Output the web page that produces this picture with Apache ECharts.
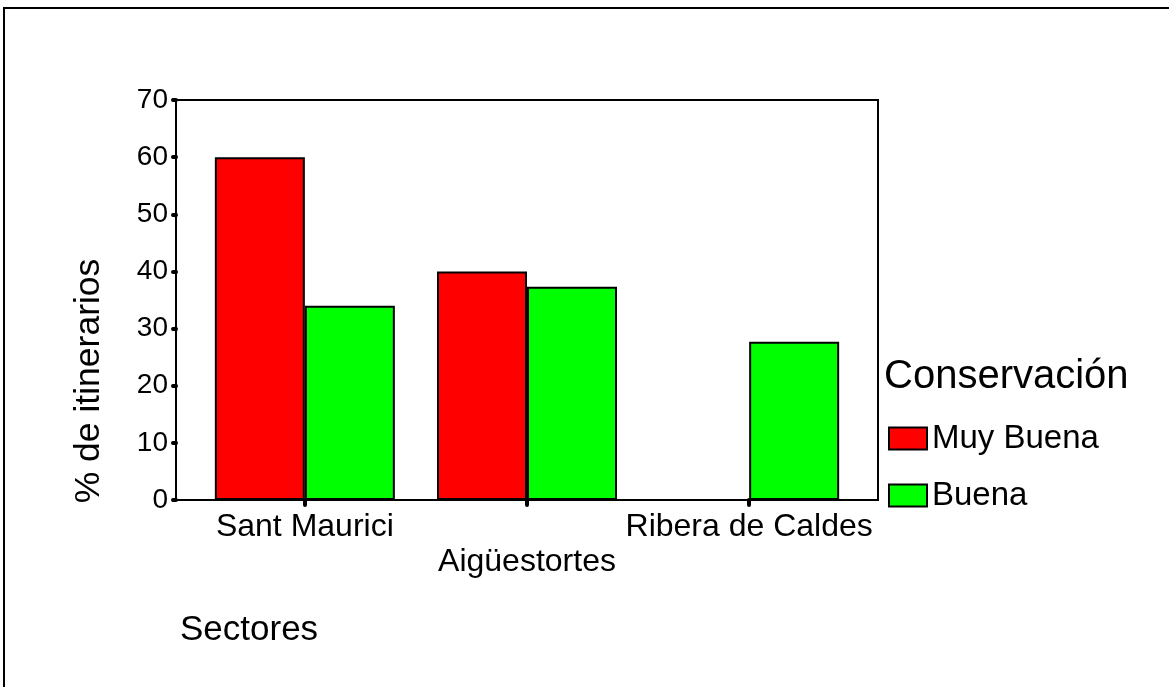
<!DOCTYPE html>
<html>
<head>
<meta charset="utf-8">
<script src="https://cdn.jsdelivr.net/npm/echarts@6/dist/echarts.min.js"></script>
<style>
  html, body { margin: 0; padding: 0; background: #fff; }
  #main { width: 1169px; height: 687px; }
</style>
</head>
<body>
<div id="main"></div>
<script>
// datos
const sectores = ["Sant Maurici", "Aigüestortes", "Ribera de Caldes"];
const muyBuena = [60, 40, 0];
const buena = [34, 37.3, 27.7];
const yTicks = [0, 10, 20, 30, 40, 50, 60, 70];

const font = "Liberation Sans, Arial, sans-serif";

const chart = echarts.init(document.getElementById("main"));

// posicion de cada sector en el eje x (0, 1, 2)
const toPoints = (arr) => arr.map((v, i) => [i, v]);

const option = {
  animation: false,
  backgroundColor: "#fff",
  textStyle: { fontFamily: font, color: "#000" },
  grid: {
    left: 176,
    top: 100,
    width: 702,
    height: 400,
    show: true,
    borderColor: "#000",
    borderWidth: 2,
    backgroundColor: "transparent",
  },
  xAxis: {
    type: "value",
    min: -0.58,
    max: 2.58,
    splitLine: { show: false },
    axisLine: { show: true, onZero: false, lineStyle: { color: "#000", width: 2 } },
    axisTick: {
      show: true,
      customValues: [0, 1, 2],
      length: 5,
      lineStyle: { color: "#000", width: 4, cap: "round" },
    },
    axisLabel: {
      customValues: [0, 1, 2],
      color: "#000",
      fontSize: 32,
      fontFamily: font,
      margin: 10,
      lineHeight: 35,
      formatter: (v) => {
        const i = Math.round(v);
        return i === 1 ? "\n" + sectores[i] : sectores[i];
      },
    },
  },
  yAxis: {
    type: "value",
    min: 0,
    max: yTicks[yTicks.length - 1],
    interval: 10,
    splitLine: { show: false },
    axisLine: { show: true, onZero: false, lineStyle: { color: "#000", width: 2 } },
    axisTick: { show: true, inside: false, length: 3, lineStyle: { color: "#000", width: 4, cap: "round" } },
    axisLabel: { color: "#000", fontSize: 28, fontFamily: font, margin: 8 },
  },
  legend: {
    orient: "vertical",
    left: 888,
    top: 422,
    padding: 0,
    itemWidth: 38,
    itemHeight: 22,
    itemGap: 24,
    icon: "rect",
    textStyle: { fontSize: 33, fontFamily: font, color: "#000" },
    data: ["Muy Buena", "Buena"],
  },
  graphic: [
    {
      type: "rect",
      silent: true,
      shape: { x: 4, y: 8, width: 1200, height: 720 },
      style: { fill: "none", stroke: "#000", lineWidth: 2 },
    },
    {
      type: "text",
      x: 89,
      y: 381,
      rotation: Math.PI / 2,
      style: {
        text: "% de itinerarios",
        font: "35.5px " + font,
        fill: "#000",
        align: "center",
        verticalAlign: "middle",
      },
    },
    {
      type: "text",
      x: 180,
      y: 630,
      style: {
        text: "Sectores",
        font: "35px " + font,
        fill: "#000",
        align: "left",
        verticalAlign: "middle",
      },
    },
    {
      type: "text",
      x: 884,
      y: 377,
      style: {
        text: "Conservación",
        font: "40px " + font,
        fill: "#000",
        align: "left",
        verticalAlign: "middle",
      },
    },
  ],
  series: [
    {
      name: "Muy Buena",
      type: "bar",
      barWidth: 90,
      barGap: "0%",
      itemStyle: { color: "#ff0000", borderColor: "#000", borderWidth: 2 },
      data: toPoints(muyBuena),
    },
    {
      name: "Buena",
      type: "bar",
      barWidth: 90,
      barGap: "0%",
      itemStyle: { color: "#00ff00", borderColor: "#000", borderWidth: 2 },
      data: toPoints(buena),
    },
  ],
};

chart.setOption(option);
</script>
</body>
</html>
